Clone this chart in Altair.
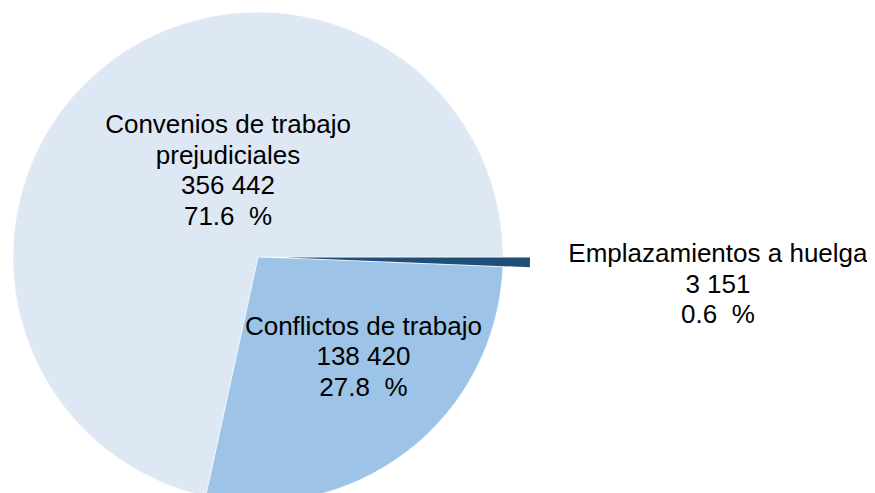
import math
import altair as alt
import pandas as pd

categorias = ["Emplazamientos a huelga", "Conflictos de trabajo", "Convenios de trabajo prejudiciales"]
valores = [3151, 138420, 356442]
porcentajes = ["0.6", "27.8", "71.6"]
valores_texto = ["3 151", "138 420", "356 442"]
nombres_lineas = ["Emplazamientos a huelga", "Conflictos de trabajo", "Convenios de trabajo\nprejudiciales"]
colores = ["#1F4E79", "#9DC3E6", "#DDE8F4"]

df = pd.DataFrame({
    "categoria": categorias,
    "valor": valores,
    "orden": list(range(len(categorias))),
    "etiqueta": [f"{n}\n{v}\n{p}\u00a0 %" for n, v, p in zip(nombres_lineas, valores_texto, porcentajes)],
})

total = sum(valores)
theta_scale = alt.Scale(domain=[0, total], range=[math.pi / 2, math.pi / 2 + 2 * math.pi])
color_scale = alt.Scale(domain=categorias, range=colores)

CX, CY, R = 250, 249, 245

base = (
    alt.Chart(df)
    .transform_window(fin="sum(valor)", sort=[alt.SortField("orden")], frame=[None, 0])
    .transform_calculate(inicio="datum.fin - datum.valor", medio="datum.fin - datum.valor / 2")
)

pie = base.transform_filter(alt.datum.orden > 0).mark_arc(radius=R, stroke="#FFFFFF", strokeWidth=0.5).encode(
    theta=alt.Theta("inicio:Q", scale=theta_scale),
    theta2="fin:Q",
    color=alt.Color("categoria:N", scale=color_scale, legend=None),
    x=alt.value(CX),
    y=alt.value(CY),
)

explotada = base.transform_filter(alt.datum.orden == 0).mark_arc(radius=R).encode(
    theta=alt.Theta("inicio:Q", scale=theta_scale),
    theta2="fin:Q",
    color=alt.Color("categoria:N", scale=color_scale, legend=None),
    x=alt.value(CX + 27),
    y=alt.value(CY + 0.5),
)


def etiqueta(orden, radio, dx, dy):
    return base.transform_filter(alt.datum.orden == orden).mark_text(
        font="Liberation Sans", fontSize=26, lineBreak="\n", lineHeight=30.5,
        align="center", baseline="middle", color="#000000", dx=dx, dy=dy,
    ).encode(
        theta=alt.Theta("medio:Q", scale=theta_scale, stack=None),
        radius=alt.value(radio),
        text="etiqueta:N",
        x=alt.value(CX),
        y=alt.value(CY),
    )


chart = alt.layer(
    pie,
    explotada,
    etiqueta(0, 460, 0, -12),
    etiqueta(1, 125, 29, -29),
    etiqueta(2, 110, 39, -46),
).properties(
    width=859, height=485, padding=0, autosize=alt.AutoSizeParams(type="none"),
).configure_view(stroke=None)

chart.save("out.html", embed_options={"renderer": "svg", "actions": False})
